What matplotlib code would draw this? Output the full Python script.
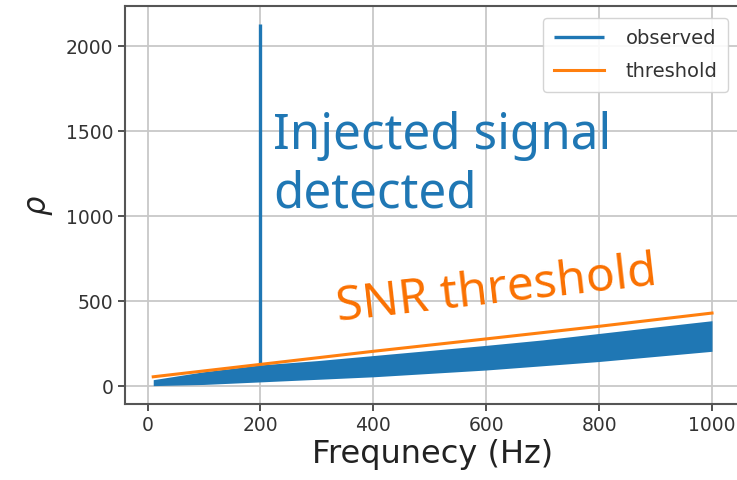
import matplotlib
matplotlib.use("Agg")
import matplotlib.pyplot as plt

# observed statistic: noise band envelope
freq = [10, 100, 200, 300, 400, 500, 600, 700, 800, 900, 1000]
obs_low = [3, 10, 25, 40, 55, 75, 95, 120, 145, 175, 205]
obs_high = [38, 85, 125, 150, 180, 210, 240, 272, 310, 348, 385]

# injected signal spike
spike_freq = 200
spike_base = 125
spike_peak = 2128

# SNR threshold
thr_freq = [10, 200, 400, 600, 800, 1000]
thr_val = [55, 128, 205, 278, 352, 430]

xticks = [0, 200, 400, 600, 800, 1000]
yticks = [0, 500, 1000, 1500, 2000]

blue = "#1f77b4"
orange = "#ff7f0e"

fig = plt.figure(figsize=(7.37, 4.8), dpi=100)
ax = fig.add_axes([0.170, 0.158, 0.834, 0.829])

ax.fill_between(freq, obs_low, obs_high, color=blue, linewidth=0)
ax.vlines(spike_freq, spike_base, spike_peak, color=blue, linewidth=2.4, label="observed")
ax.plot(thr_freq, thr_val, color=orange, linewidth=2.2, label="threshold")

ax.set_xlim(-39.5, 1049.5)
ax.set_ylim(-106, 2235)
ax.set_xticks(xticks)
ax.set_yticks(yticks)
ax.tick_params(labelsize=13.5, length=5, width=1.2, colors="#333333")
ax.grid(True, color="#c8c8c8", linewidth=1.3)
ax.set_axisbelow(True)
for sp in ax.spines.values():
    sp.set_color("#555555")
    sp.set_linewidth(1.5)

ax.set_xlabel("Frequnecy (Hz)", fontsize=23, color="#222222", labelpad=3)
ax.set_ylabel(r"$\rho$", fontsize=22, color="#222222", labelpad=8)

leg = ax.legend(loc="upper right", fontsize=14, handlelength=2.6,
                handletextpad=1.1, labelspacing=0.75, borderpad=0.55,
                borderaxespad=0.6, framealpha=0.9, edgecolor="#d0d0d0")
for t in leg.get_texts():
    t.set_color("#333333")

# annotations added on top of the plot
ax.text(222, 1395, "Injected signal", fontsize=35.5, color=blue,
        family="Noto Sans", ha="left", va="baseline")
ax.text(222, 1050, "detected", fontsize=35.5, color=blue,
        family="Noto Sans", ha="left", va="baseline")
ax.text(338, 385, "SNR threshold", fontsize=34.5, color="#fa7000",
        family="Noto Sans", ha="left", va="baseline",
        rotation=6.5, rotation_mode="anchor")

fig.savefig("out.png", dpi=100)
